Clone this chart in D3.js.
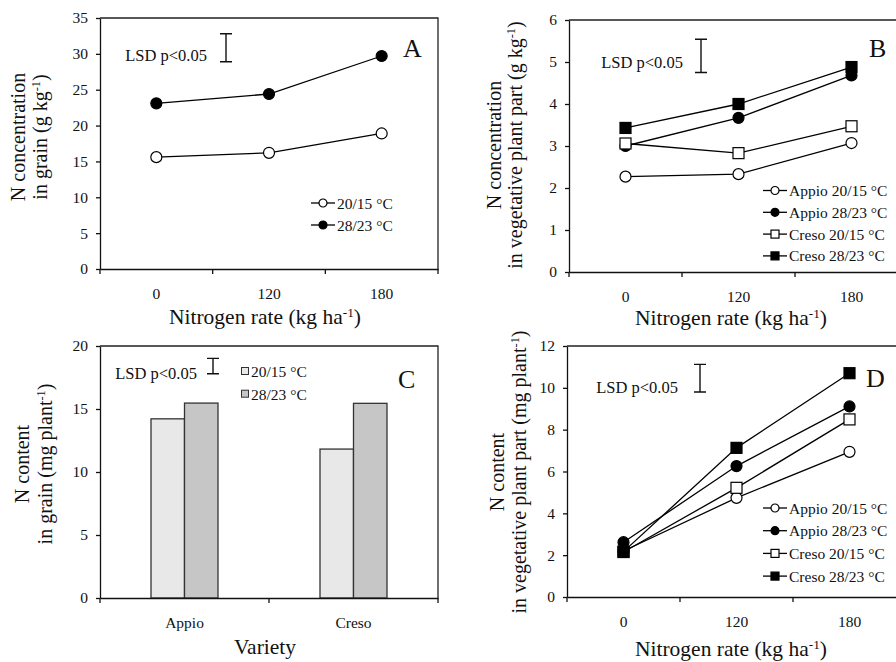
<!DOCTYPE html>
<html>
<head>
<meta charset="utf-8">
<script src="https://cdn.jsdelivr.net/npm/d3@7"></script>
<style>
  body { margin: 0; background: #fff; }
  svg { display: block; }
  .domain, .tick line { stroke: #111; stroke-width: 1.3; }
</style>
</head>
<body>
<script>
const FONT = 'Liberation Serif, Times New Roman, serif'

// nitrogen rate categories (kg/ha)
const nRates = ['0', '120', '180']
const varieties = ['Appio', 'Creso']

// panel A: N concentration in grain (g/kg)
const grainConc2015 = [15.6, 16.2, 18.9]
const grainConc2823 = [23.1, 24.4, 29.7]

// panel B: N concentration in vegetative plant part (g/kg)
const vegConcAppio2015 = [2.27, 2.33, 3.07]
const vegConcAppio2823 = [3.0, 3.67, 4.68]
const vegConcCreso2015 = [3.06, 2.83, 3.47]
const vegConcCreso2823 = [3.43, 4.0, 4.88]

// panel C: N content in grain (mg/plant)
const grainCont2015 = [14.22, 11.82]
const grainCont2823 = [15.47, 15.45]

// panel D: N content in vegetative plant part (mg/plant)
const vegContAppio2015 = [2.2, 4.74, 6.94]
const vegContAppio2823 = [2.62, 6.26, 9.11]
const vegContCreso2015 = [2.15, 5.22, 8.49]
const vegContCreso2823 = [2.17, 7.13, 10.7]

// LSD bars [bottom, top] in data units
const lsdA = [28.9, 32.8]
const lsdB = [4.75, 5.54]
const lsdC = [17.8, 19.02]
const lsdD = [9.8, 11.12]

const yTicksA = d3.range(0, 36, 5)
const yTicksB = d3.range(0, 7, 1)
const yTicksC = d3.range(0, 21, 5)
const yTicksD = d3.range(0, 13, 2)

const svg = d3.select('body').append('svg')
  .attr('width', 896)
  .attr('height', 662)
  .attr('font-family', FONT)

// draws axes, frame and x tick marks on band boundaries
function frame(g, p, xScale, yScale, yTicks) {
  let ya = g.append('g')
    .attr('transform', 'translate(' + p.x0 + ',0)')
    .call(d3.axisLeft(yScale).tickValues(yTicks).tickFormat(d3.format('d'))
      .tickSize(4).tickSizeOuter(0).tickPadding(8))

  let xa = g.append('g')
    .attr('transform', 'translate(0,' + p.yBot + ')')
    .call(d3.axisBottom(xScale).tickSize(0).tickSizeOuter(0).tickPadding(19))

  ya.selectAll('text').attr('font-size', 15.5).attr('font-family', FONT).attr('fill', '#111')
  xa.selectAll('text').attr('font-size', 15.5).attr('font-family', FONT).attr('fill', '#111')

  let bounds = xScale.domain().map(d => xScale(d))
  bounds.push(p.x1)
  g.selectAll('.xb').data(bounds).enter().append('line')
    .attr('x1', d => d).attr('x2', d => d)
    .attr('y1', p.yBot).attr('y2', p.yBot + 5)
    .attr('stroke', '#111').attr('stroke-width', 1.3)

  // top and right border
  g.append('path')
    .attr('d', 'M' + p.x0 + ',' + p.yTop + 'H' + p.x1 + 'V' + p.yBot)
    .attr('fill', 'none').attr('stroke', '#222').attr('stroke-width', 1.3)
}

function titles(g, p) {
  // x title
  let xt = g.append('text')
    .attr('x', p.xtX).attr('y', p.xtY)
    .attr('text-anchor', 'middle')
    .attr('font-size', 21.5).attr('fill', '#111')
  p.xTitle(xt)

  // y title, two rotated lines
  p.yTitle.forEach((fn, i) => {
    let t = g.append('text')
      .attr('transform', 'translate(' + p.ytX[i] + ',' + p.ytY + ') rotate(-90)')
      .attr('text-anchor', 'middle')
      .attr('font-size', 20).attr('fill', '#111')
    fn(t)
  })

  // panel letter
  g.append('text')
    .attr('x', p.letterX).attr('y', p.letterY)
    .attr('font-size', 26).attr('fill', '#111')
    .text(p.letter)
}

function withSup(t, before, sup, after) {
  t.append('tspan').text(before)
  t.append('tspan').attr('font-size', '0.62em').attr('dy', '-0.55em').text(sup)
  t.append('tspan').attr('dy', '0.34em').text(after)
}

function lsd(g, p, yScale, range) {
  g.append('text')
    .attr('x', p.lsdTextX).attr('y', p.lsdTextY)
    .attr('text-anchor', 'end')
    .attr('font-size', 16.5).attr('fill', '#111')
    .text('LSD p<0.05')
  let y0 = yScale(range[0]), y1 = yScale(range[1])
  g.append('path')
    .attr('d', 'M' + (p.lsdX - 6) + ',' + y1 + 'H' + (p.lsdX + 6) +
      'M' + p.lsdX + ',' + y1 + 'V' + y0 +
      'M' + (p.lsdX - 6) + ',' + y0 + 'H' + (p.lsdX + 6))
    .attr('fill', 'none').attr('stroke', '#111').attr('stroke-width', 1.4)
}

function marker(sel, type, size) {
  if (type[0] === 'circle') {
    sel.append('circle').attr('r', size / 2)
  } else {
    sel.append('rect')
      .attr('x', -size / 2).attr('y', -size / 2)
      .attr('width', size).attr('height', size)
  }
  sel.selectAll('circle,rect')
    .attr('fill', type[1] ? '#000' : '#fff')
    .attr('stroke', '#000').attr('stroke-width', 1.2)
}

function linePanel(p) {
  let g = svg.append('g')
  let x = d3.scaleBand().domain(nRates).range([p.x0, p.x1])
  let y = d3.scaleLinear().domain(p.yDomain).range([p.yBot, p.yTop])

  frame(g, p, x, y, p.yTicks)

  p.series.forEach(s => {
    g.append('path')
      .datum(s.values)
      .attr('d', d3.line().x((d, i) => x(nRates[i]) + x.bandwidth() / 2).y(d => y(d)))
      .attr('fill', 'none').attr('stroke', '#000').attr('stroke-width', 1.3)
    s.values.forEach((v, i) => {
      let m = g.append('g').attr('transform', 'translate(' + (x(nRates[i]) + x.bandwidth() / 2) + ',' + y(v) + ')')
      marker(m, s.type, 11)
    })
  })

  // legend
  p.series.forEach((s, i) => {
    let ly = p.legY + i * p.legStep
    g.append('line')
      .attr('x1', p.legX - 12).attr('x2', p.legX + 12)
      .attr('y1', ly).attr('y2', ly)
      .attr('stroke', '#000').attr('stroke-width', 1.3)
    let m = g.append('g').attr('transform', 'translate(' + p.legX + ',' + ly + ')')
    marker(m, s.type, 8)
    g.append('text')
      .attr('x', p.legX + 14).attr('y', ly + 5.5)
      .attr('font-size', 15.5).attr('fill', '#111')
      .text(s.name)
  })

  lsd(g, p, y, p.lsd)
  titles(g, p)
}

const nrTitle = t => withSup(t, 'Nitrogen rate (kg ha', '-1', ')')

// panel A
linePanel({
  x0: 100, x1: 438, yTop: 18, yBot: 269,
  yDomain: [0, 35], yTicks: yTicksA,
  series: [
    { name: '20/15 °C', values: grainConc2015, type: ['circle', false] },
    { name: '28/23 °C', values: grainConc2823, type: ['circle', true] }
  ],
  legX: 323, legY: 203, legStep: 22,
  lsd: lsdA, lsdX: 226, lsdTextX: 207, lsdTextY: 61,
  xtX: 265, xtY: 324, xTitle: nrTitle,
  ytX: [24.5, 47], ytY: 137,
  yTitle: [t => t.text('N concentration'), t => withSup(t, 'in grain (g kg', '-1', ')')],
  letter: 'A', letterX: 403, letterY: 57
})

// panel B
linePanel({
  x0: 569, x1: 908, yTop: 20, yBot: 272,
  yDomain: [0, 6], yTicks: yTicksB,
  series: [
    { name: 'Appio 20/15 °C', values: vegConcAppio2015, type: ['circle', false] },
    { name: 'Appio 28/23 °C', values: vegConcAppio2823, type: ['circle', true] },
    { name: 'Creso 20/15 °C', values: vegConcCreso2015, type: ['square', false] },
    { name: 'Creso 28/23 °C', values: vegConcCreso2823, type: ['square', true] }
  ],
  legX: 775, legY: 190.5, legStep: 21.8,
  lsd: lsdB, lsdX: 701, lsdTextX: 683, lsdTextY: 67.5,
  xtX: 731, xtY: 325, xTitle: nrTitle,
  ytX: [501, 522], ytY: 145,
  yTitle: [t => t.text('N concentration'), t => withSup(t, 'in vegetative plant part (g kg', '-1', ')')],
  letter: 'B', letterX: 869, letterY: 57
})

// panel D
linePanel({
  x0: 567, x1: 906, yTop: 346, yBot: 597,
  yDomain: [0, 12], yTicks: yTicksD,
  series: [
    { name: 'Appio 20/15 °C', values: vegContAppio2015, type: ['circle', false] },
    { name: 'Appio 28/23 °C', values: vegContAppio2823, type: ['circle', true] },
    { name: 'Creso 20/15 °C', values: vegContCreso2015, type: ['square', false] },
    { name: 'Creso 28/23 °C', values: vegContCreso2823, type: ['square', true] }
  ],
  legX: 775, legY: 508, legStep: 22.7,
  lsd: lsdD, lsdX: 700, lsdTextX: 678, lsdTextY: 392.5,
  xtX: 731, xtY: 656, xTitle: nrTitle,
  ytX: [504, 526], ytY: 472,
  yTitle: [t => t.text('N content'), t => withSup(t, 'in vegetative plant part (mg plant', '-1', ')')],
  letter: 'D', letterX: 866, letterY: 387
})

// panel C: bar chart
{
  const p = {
    x0: 100, x1: 438, yTop: 346, yBot: 598,
    lsdX: 213, lsdTextX: 197, lsdTextY: 379,
    xtX: 265, xtY: 654,
    ytX: [29, 52], ytY: 464,
    yTitle: [t => t.text('N content'), t => withSup(t, 'in grain (mg plant', '-1', ')')],
    xTitle: t => t.text('Variety'),
    letter: 'C', letterX: 398, letterY: 388
  }
  const temps = ['20/15 °C', '28/23 °C']
  const fills = ['#e8e8e8', '#c6c6c6']
  const barData = [grainCont2015, grainCont2823]

  let g = svg.append('g')
  let x = d3.scaleBand().domain(varieties).range([p.x0, p.x1])
  let x1 = d3.scaleBand().domain(temps).range([-33.5, 33.5])
  let y = d3.scaleLinear().domain([0, 20]).range([p.yBot, p.yTop])

  temps.forEach((t, ti) => {
    g.selectAll('.bar' + ti).data(barData[ti]).enter().append('rect')
      .attr('x', (d, i) => x(varieties[i]) + x.bandwidth() / 2 + x1(t))
      .attr('y', d => y(d))
      .attr('width', x1.bandwidth())
      .attr('height', d => y(0) - y(d))
      .attr('fill', fills[ti])
      .attr('stroke', '#333').attr('stroke-width', 1.3)
  })

  frame(g, p, x, y, yTicksC)

  temps.forEach((t, i) => {
    let ly = 371 + i * 22.7
    g.append('rect')
      .attr('x', 241.5).attr('y', ly - 3.5)
      .attr('width', 7).attr('height', 7)
      .attr('fill', fills[i]).attr('stroke', '#333').attr('stroke-width', 1)
    g.append('text')
      .attr('x', 251).attr('y', ly + 6)
      .attr('font-size', 15.5).attr('fill', '#111')
      .text(t)
  })

  lsd(g, p, y, lsdC)
  titles(g, p)
}
</script>
</body>
</html>
